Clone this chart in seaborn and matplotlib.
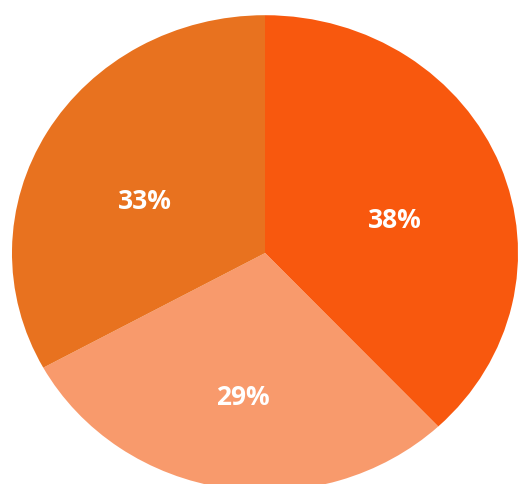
import matplotlib
matplotlib.use("Agg")
import matplotlib.pyplot as plt
import seaborn as sns

# slice shares, clockwise from 12 o'clock
labels = ['A', 'B', 'C']
shares = [38, 29, 33]
colors = ['#F8580E', '#F89A6C', '#E8721F']

sns.set_theme(style='white')
plt.rcParams['font.family'] = ['Open Sans', 'DejaVu Sans']

fig = plt.figure(figsize=(5.19, 4.85), dpi=100)
ax = fig.add_axes([0.0231, -0.0144, 0.975, 0.981])

wedges, texts, autotexts = ax.pie(
    shares, colors=colors, startangle=90, counterclock=False,
    autopct='%d%%', pctdistance=0.55,
    wedgeprops={'linewidth': 0, 'edgecolor': 'none'},
    textprops={'color': 'white', 'fontsize': 19, 'fontweight': 'bold'},
)
# the scanned pie's centre sits a bit lower than the outline centre
for t in autotexts:
    x, y = t.get_position()
    t.set_position((x, y - 0.06))

ax.set_aspect('auto')
ax.set_xlim(-1, 1)
ax.set_ylim(-1, 1)
ax.axis('off')

fig.savefig('out.png', dpi=100, facecolor='white')
plt.close(fig)
